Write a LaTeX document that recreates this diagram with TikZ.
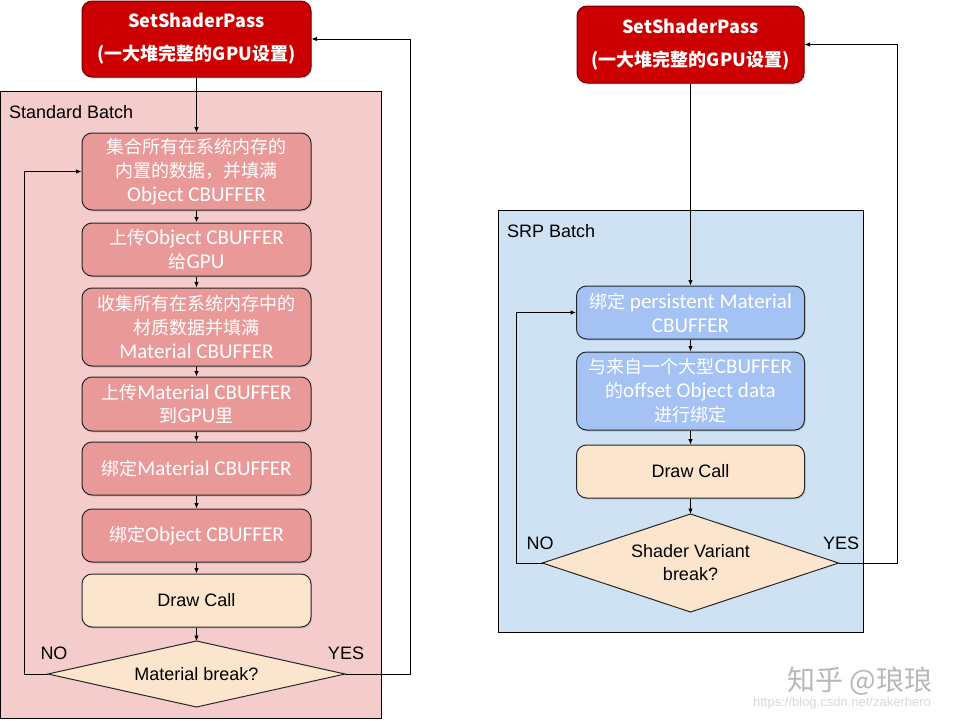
\documentclass[tikz,border=0pt]{standalone}
\usepackage{fontspec}
\setmainfont{Liberation Sans}
\newfontfamily\cjk{Noto Sans CJK SC}
\newfontfamily\calfont{Carlito}[Scale=1.17]
\usetikzlibrary{arrows.meta,shapes.geometric,shadows}
\definecolor{passred}{HTML}{CC0000}
\definecolor{passborder}{HTML}{6E0000}
\definecolor{pinkbg}{HTML}{F4CCCC}
\definecolor{pinkbox}{HTML}{EA9999}
\definecolor{bluebg}{HTML}{CFE2F3}
\definecolor{bluebox}{HTML}{A4C2F4}
\definecolor{peach}{HTML}{FCE5CD}
\newcommand{\zh}[1]{{\cjk #1}}
\begin{document}
\begin{tikzpicture}[x=1pt,y=-1pt,
  shad/.style={drop shadow={opacity=0.25,shadow xshift=1pt,shadow yshift=-1.5pt}},
  box/.style={rounded corners=10pt, draw=black!85, line width=1pt, minimum width=229pt,
    align=center, inner sep=2pt, text=white, shad,
    font=\calfont\fontsize{18}{24}\selectfont},
  pinkb/.style={box, fill=pinkbox},
  blueb/.style={box, fill=bluebox},
  callb/.style={box, fill=peach, text=black, font=\fontsize{18}{24}\selectfont, minimum height=53pt},
  passb/.style={rounded corners=10pt, draw=passborder, line width=1pt, fill=passred,
    minimum width=229pt, minimum height=76pt, align=center, text=white, shad,
    font=\cjk\bfseries\fontsize{18}{33}\selectfont},
  dia/.style={diamond, draw=black!85, line width=1pt, fill=peach, inner sep=0pt, outer sep=0pt,
    align=center, font=\fontsize{18}{23}\selectfont},
  grp/.style={draw=black, line width=1pt},
  lbl/.style={font=\fontsize{18}{22}\selectfont, inner sep=0pt},
  arr/.style={-{Latex[length=5.5pt,width=4.5pt]}, line width=0.8pt, draw=black},
]
\useasboundingbox (0,0) rectangle (960,720);
\fill[white] (0,0) rectangle (960,720);

% ---------------- left ----------------
\draw[grp, fill=pinkbg] (0.5,91) rectangle (381,718);
\node[lbl, anchor=west] (stdlbl) at (9,112) {Standard Batch};

\node[passb] (pL) at (196.5,39) {SetShaderPass\\(一大堆完整的GPU设置)};

\node[pinkb, minimum height=77pt] (L1) at (196.5,171.5)
  {\zh{集合所有在系统内存的}\\\zh{内置的数据，并填满}\\Object CBUFFER};
\node[pinkb, minimum height=53pt] (L2) at (196.5,249.5)
  {\zh{上传}Object CBUFFER\\\zh{给}GPU};
\node[pinkb, minimum height=78pt] (L3) at (196.5,327)
  {\zh{收集所有在系统内存中的}\\\zh{材质数据并填满}\\Material CBUFFER};
\node[pinkb, minimum height=54pt] (L4) at (196.5,404)
  {\zh{上传}Material CBUFFER\\\zh{到}GPU\zh{里}};
\node[pinkb, minimum height=53pt] (L5) at (196.5,468.5)
  {\zh{绑定}Material CBUFFER};
\node[pinkb, minimum height=53pt] (L6) at (196.5,535.5)
  {\zh{绑定}Object CBUFFER};
\node[callb] (Ld) at (196.5,600.5) {Draw Call};
\node[dia, minimum width=297pt, minimum height=66pt, aspect=4.5] (Ldia) at (196.5,674) {Material break?};

\node[lbl] (Lno) at (54,653) {NO};
\node[lbl] (Lyes) at (346,653) {YES};

\draw[arr] (pL) -- (L1);
\draw[arr] (L1) -- (L2);
\draw[arr] (L2) -- (L3);
\draw[arr] (L3) -- (L4);
\draw[arr] (L4) -- (L5);
\draw[arr] (L5) -- (L6);
\draw[arr] (L6) -- (Ld);
\draw[arr] (Ld) -- (Ldia);
\coordinate (LnoX) at (24,0);
\coordinate (LyesX) at (410,0);
\draw[arr] (Ldia.west) -- (Ldia.west -| LnoX) |- (L1.west);
\draw[arr] (Ldia.east) -- (Ldia.east -| LyesX) |- (pL.east);

% ---------------- right ----------------
\draw[grp, fill=bluebg] (498,210) rectangle (863,632);
\node[lbl, anchor=west] (srplbl) at (507,231) {SRP Batch};

\node[passb, minimum width=227pt, minimum height=77pt] (pR) at (690.5,44.5) {SetShaderPass\\(一大堆完整的GPU设置)};

\node[blueb, minimum width=228pt, minimum height=53pt] (R1) at (690.5,312.5)
  {\zh{绑定} persistent Material\\CBUFFER};
\node[blueb, minimum width=228pt, minimum height=78pt] (R2) at (690.5,391)
  {\zh{与来自一个大型}CBUFFER\\\zh{的}offset Object data\\\zh{进行绑定}};
\node[callb, minimum width=228pt] (Rd) at (690.5,471.5) {Draw Call};
\node[dia, minimum width=296pt, minimum height=98pt, aspect=3] (Rdia) at (690.5,563) {Shader Variant\\break?};

\node[lbl] (Rno) at (540,543) {NO};
\node[lbl] (Ryes) at (841,543) {YES};

\draw[arr] (pR) -- (R1);
\draw[arr] (R1) -- (R2);
\draw[arr] (R2) -- (Rd);
\draw[arr] (Rd) -- (Rdia);
\coordinate (RnoX) at (516,0);
\coordinate (RyesX) at (897,0);
\draw[arr] (Rdia.west) -- (Rdia.west -| RnoX) |- (R1.west);
\draw[arr] (Rdia.east) -- (Rdia.east -| RyesX) |- (pR.east);

% ---------------- watermark ----------------
\node[font=\cjk\fontsize{28}{30}\selectfont, text=black!28, inner sep=0pt] (wm1) at (860,681) {知乎 @琅琅};
\node[font=\fontsize{13}{15}\selectfont, text=black!15, inner sep=0pt] (wm2) at (842,703) {https://blog.csdn.net/zakerhero};
\end{tikzpicture}
\end{document}
